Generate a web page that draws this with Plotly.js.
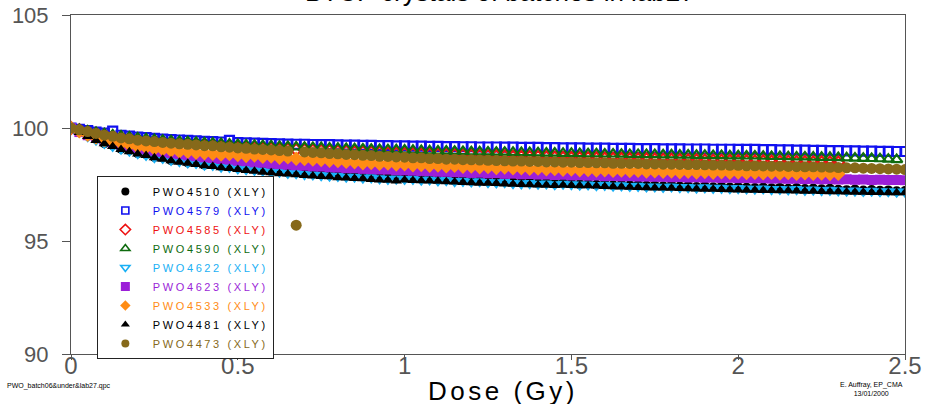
<!DOCTYPE html>
<html>
<head>
<meta charset="utf-8">
<script src="https://cdn.plot.ly/plotly-3.0.1.min.js"></script>
<style>html,body{margin:0;padding:0;background:#fff;}#chart{width:926px;height:404px;}</style>
</head>
<body>
<div id="chart"></div>
<script>
// Dose (Gy) sampling shared by all series
const DOSE = [0,0.025,0.05,0.075,0.1,0.125,0.15,0.175,0.2,0.225,
0.25,0.275,0.3,0.325,0.35,0.375,0.4,0.425,0.45,0.475,
0.5,0.525,0.55,0.575,0.6,0.625,0.65,0.675,0.7,0.725,
0.75,0.775,0.8,0.825,0.85,0.875,0.9,0.925,0.95,0.975,
1.0,1.025,1.05,1.075,1.1,1.125,1.15,1.175,1.2,1.225,
1.25,1.275,1.3,1.325,1.35,1.375,1.4,1.425,1.45,1.475,
1.5,1.525,1.55,1.575,1.6,1.625,1.65,1.675,1.7,1.725,
1.75,1.775,1.8,1.825,1.85,1.875,1.9,1.925,1.95,1.975,
2.0,2.025,2.05,2.075,2.1,2.125,2.15,2.175,2.2,2.225,
2.25,2.275,2.3,2.325,2.35,2.375,2.4,2.425,2.45,2.475,2.5];

const PWO4510 = [100.0,99.85,99.66,99.52,99.33,99.24,99.08,99.02,98.88,98.84,
98.72,98.70,98.58,98.56,98.47,98.50,98.38,98.40,98.31,98.30,
98.24,98.21,98.18,98.15,98.09,98.12,98.03,98.06,97.99,97.98,
97.95,97.92,97.96,97.88,97.90,97.84,97.87,97.82,97.80,97.83,
97.78,97.80,97.74,97.77,97.71,97.73,97.68,97.70,97.66,97.69,
97.64,97.62,97.66,97.60,97.58,97.61,97.56,97.59,97.54,97.57,
97.55,97.51,97.53,97.49,97.52,97.47,97.50,97.46,97.48,97.44,
97.45,97.42,97.46,97.41,97.43,97.39,97.42,97.38,97.40,97.37,
97.39,97.36,97.34,97.37,97.33,97.35,97.31,97.34,97.30,97.32,
97.29,97.31,97.27,97.25,97.28,97.23,97.26,97.22,97.24,97.20,97.21];

const PWO4579 = [100.0,99.94,99.88,99.82,99.77,99.86,99.68,99.64,99.60,99.57,
99.54,99.51,99.49,99.47,99.45,99.43,99.41,99.40,99.38,99.45,
99.35,99.34,99.33,99.32,99.31,99.30,99.29,99.28,99.28,99.27,
99.26,99.26,99.25,99.24,99.24,99.23,99.23,99.22,99.22,99.21,
99.21,99.20,99.20,99.19,99.19,99.18,99.18,99.17,99.17,99.16,
99.16,99.16,99.15,99.15,99.14,99.14,99.14,99.13,99.13,99.12,
99.12,99.12,99.11,99.11,99.11,99.10,99.10,99.10,99.09,99.09,
99.09,99.08,99.08,99.08,99.07,99.07,99.07,99.06,99.06,99.06,
99.05,99.05,99.05,99.04,99.04,99.03,99.03,99.02,99.02,99.01,
99.01,99.00,99.00,98.99,98.99,98.98,98.98,98.97,98.97,98.96,98.96];

const PWO4585 = [100.0,99.90,99.82,99.75,99.68,99.62,99.57,99.52,99.47,99.43,
99.40,99.37,99.34,99.31,99.29,99.27,99.25,99.22,99.21,99.18,
99.16,99.14,99.12,99.11,99.09,99.07,99.06,99.04,99.03,99.01,
99.00,98.98,98.97,98.96,98.94,98.93,98.92,98.91,98.89,98.88,
98.87,98.86,98.85,98.84,98.83,98.82,98.81,98.80,98.79,98.78,
98.77,98.76,98.75,98.74,98.73,98.72,98.72,98.71,98.70,98.69,
98.68,98.67,98.67,98.66,98.65,98.64,98.64,98.63,98.62,98.62,
98.61,98.60,98.60,98.59,98.58,98.58,98.57,98.56,98.56,98.55,
98.54,98.54,98.53,98.53,98.52,98.51,98.51,98.50,98.50,98.49,
98.49,98.48,98.48];

const PWO4590 = [100.0,99.93,99.86,99.80,99.74,99.69,99.64,99.60,99.56,99.52,
99.49,99.46,99.43,99.41,99.39,99.37,99.35,99.33,99.31,99.29,
99.27,99.25,99.24,99.22,99.21,99.19,99.18,99.16,99.15,99.14,
99.13,99.11,99.10,99.09,99.08,99.07,99.06,99.05,99.04,99.03,
99.02,99.01,99.00,98.99,98.98,98.98,98.97,98.96,98.95,98.95,
98.94,98.93,98.93,98.92,98.91,98.91,98.90,98.89,98.89,98.88,
98.88,98.87,98.86,98.86,98.85,98.85,98.84,98.83,98.83,98.82,
98.82,98.81,98.81,98.80,98.80,98.79,98.79,98.78,98.78,98.77,
98.77,98.76,98.76,98.75,98.74,98.74,98.73,98.72,98.72,98.71,
98.70,98.70,98.69,98.68,98.67,98.66,98.65,98.64,98.62,98.60];

const PWO4622 = [100.0,99.83,99.63,99.47,99.33,99.20,99.07,98.98,98.87,98.80,
98.70,98.66,98.57,98.52,98.46,98.44,98.36,98.35,98.28,98.26,
98.20,98.17,98.13,98.10,98.06,98.05,98.00,97.99,97.95,97.93,
97.90,97.88,97.87,97.83,97.83,97.79,97.80,97.76,97.74,97.75,
97.73,97.74,97.70,97.71,97.67,97.68,97.64,97.65,97.62,97.63,
97.59,97.58,97.59,97.55,97.54,97.55,97.52,97.53,97.50,97.52,
97.50,97.48,97.49,97.46,97.47,97.44,97.45,97.42,97.43,97.40,
97.40,97.38,97.40,97.37,97.37,97.35,97.36,97.34,97.34,97.32,
97.33,97.31,97.30,97.31,97.28,97.29,97.27,97.28,97.25,97.26,
97.24,97.25,97.23,97.21,97.22,97.20,97.21,97.19,97.19,97.17,97.17];

const PWO4623 = [100.0,99.82,99.68,99.56,99.45,99.35,99.27,99.18,99.12,99.05,
98.99,98.94,98.88,98.84,98.79,98.75,98.70,98.67,98.63,98.60,
98.55,98.53,98.48,98.46,98.42,98.40,98.37,98.35,98.33,98.30,
98.29,98.26,98.25,98.22,98.22,98.19,98.18,98.16,98.16,98.13,
98.12,98.11,98.09,98.09,98.06,98.06,98.04,98.04,98.01,98.02,
97.99,98.00,97.97,97.98,97.95,97.96,97.94,97.94,97.92,97.93,
97.90,97.91,97.89,97.90,97.87,97.88,97.86,97.87,97.85,97.85,
97.84,97.84,97.82,97.83,97.81,97.82,97.80,97.81,97.79,97.80,
97.78,97.79,97.77,97.78,97.76,97.77,97.75,97.76,97.74,97.75,
97.73,97.74,97.72,97.73,97.71,97.72,97.70,97.71,97.70,97.70,97.69];

const PWO4533 = [100.0,99.85,99.70,99.58,99.47,99.40,99.32,99.25,99.17,99.14,
99.08,99.05,99.00,98.96,98.95,98.90,98.88,98.86,98.82,98.84,
98.80,98.76,98.78,98.72,98.74,98.68,98.70,98.64,98.62,98.60,
98.58,98.55,98.53,98.50,98.48,98.44,98.45,98.41,98.42,98.38,
98.39,98.35,98.36,98.33,98.34,98.30,98.32,98.28,98.29,98.26,
98.27,98.23,98.25,98.21,98.22,98.19,98.20,98.17,98.18,98.15,
98.16,98.13,98.14,98.12,98.13,98.10,98.11,98.09,98.10,98.07,
98.08,98.06,98.07,98.04,98.06,98.03,98.05,98.02,98.04,98.01,
98.03,98.00,98.02,97.99,98.01,97.98,98.00,97.97,97.99,97.97,
97.98,97.96,97.97];

const PWO4481 = [100.0,99.80,99.62,99.45,99.30,99.18,99.05,98.95,98.85,98.78,
98.68,98.62,98.55,98.49,98.44,98.38,98.33,98.30,98.24,98.21,
98.16,98.12,98.09,98.04,98.02,97.98,97.96,97.93,97.90,97.88,
97.85,97.84,97.80,97.79,97.76,97.75,97.72,97.70,97.69,97.66,
97.70,97.68,97.67,97.65,97.64,97.62,97.61,97.59,97.58,97.56,
97.55,97.54,97.52,97.51,97.50,97.49,97.48,97.47,97.46,97.47,
97.46,97.45,97.44,97.43,97.41,97.40,97.39,97.38,97.37,97.36,
97.35,97.34,97.33,97.32,97.31,97.30,97.29,97.29,97.28,97.27,
97.26,97.25,97.25,97.24,97.23,97.22,97.22,97.21,97.20,97.20,
97.19,97.18,97.18,97.17,97.16,97.16,97.15,97.15,97.14,97.14,97.13];

const PWO4473 = [100.0,99.92,99.84,99.76,99.68,99.63,99.56,99.52,99.46,99.43,
99.40,99.36,99.33,99.30,99.28,99.25,99.22,99.21,99.17,99.15,
99.12,99.10,99.07,99.05,99.03,99.00,98.98,95.70,98.94,98.92,
98.90,98.87,98.86,98.83,98.82,98.79,98.78,98.75,98.74,98.72,
98.71,98.68,98.68,98.65,98.65,98.62,98.62,98.60,98.59,98.58,
98.57,98.56,98.55,98.54,98.54,98.52,98.52,98.50,98.50,98.49,
98.49,98.47,98.47,98.46,98.46,98.44,98.44,98.43,98.43,98.41,
98.41,98.40,98.40,98.39,98.38,98.38,98.37,98.36,98.36,98.35,
98.35,98.33,98.33,98.32,98.31,98.31,98.30,98.29,98.28,98.28,
98.27,98.26,98.25,98.24,98.24,98.22,98.21,98.20,98.19,98.18,98.16];

const SERIES_NAMES = ['PWO4510 (XLY)','PWO4579 (XLY)','PWO4585 (XLY)','PWO4590 (XLY)','PWO4622 (XLY)',
                      'PWO4623 (XLY)','PWO4533 (XLY)','PWO4481 (XLY)','PWO4473 (XLY)'];
const SERIES_VALUES = [PWO4510,PWO4579,PWO4585,PWO4590,PWO4622,PWO4623,PWO4533,PWO4481,PWO4473];
const COLORS = ['#000000','#1010f0','#ee1111','#0f6b0f','#19b0f5','#9b1fd8','#ff8c14','#000000','#86691a'];
const SYMBOLS = ['circle','square-open','diamond-open','triangle-up-open','triangle-down-open',
                 'square','diamond','triangle-up','circle'];
const SIZES = [10,9,9,10,9,10,11,10,11];
const LEGEND_SIZES = [8,7,8,8,8,9,8,8,8];

const traces = [];
// data traces (no legend entries)
SERIES_VALUES.forEach((vals, k) => {
  const open = SYMBOLS[k].endsWith('open');
  traces.push({
    type: 'scatter', mode: 'markers',
    x: DOSE.slice(0, vals.length), y: vals,
    name: SERIES_NAMES[k], showlegend: false,
    marker: {symbol: SYMBOLS[k], size: SIZES[k], color: COLORS[k],
             line: {color: COLORS[k], width: open ? 2.2 : 0}},
    hoverinfo: 'x+y+name'
  });
});
// legend entries with smaller symbols
SERIES_NAMES.forEach((nm, k) => {
  const open = SYMBOLS[k].endsWith('open');
  traces.push({
    type: 'scatter', mode: 'markers', x: [null], y: [null],
    name: '<span style="color:' + COLORS[k] + ';letter-spacing:2.6px">' + nm + '</span>',
    showlegend: true, hoverinfo: 'skip',
    marker: {symbol: SYMBOLS[k], size: LEGEND_SIZES[k], color: COLORS[k],
             line: {color: COLORS[k], width: open ? 1.6 : 0}}
  });
});

const FONT = 'Liberation Sans, Arial, sans-serif';

const layout = {
  width: 926, height: 404,
  paper_bgcolor: '#ffffff', plot_bgcolor: '#ffffff',
  margin: {l: 71, r: 21, t: 15, b: 50, pad: 0},
  showlegend: true,
  legend: {
    x: 0.031, y: 0.525, xanchor: 'left', yanchor: 'top',
    bgcolor: '#ffffff', bordercolor: '#222222', borderwidth: 1,
    font: {family: FONT, size: 11, color: '#000'},
    tracegroupgap: 0, itemwidth: 45, itemsizing: 'trace'
  },
  xaxis: {
    range: [0, 2.5], tickvals: [0, 0.5, 1, 1.5, 2, 2.5], ticktext: ['0','0.5','1','1.5','2','2.5'],
    showgrid: false, zeroline: false, showline: true, linecolor: '#555555', linewidth: 1, mirror: true,
    ticks: 'outside', ticklen: 5, tickcolor: '#555555', ticklabelstandoff: -15,
    tickfont: {family: FONT, size: 24, color: '#555555'},
    title: {text: ' ', font: {size: 2}}
  },
  yaxis: {
    range: [90, 105], tickvals: [90, 95, 100, 105],
    showgrid: false, zeroline: false, showline: true, linecolor: '#555555', linewidth: 1, mirror: true,
    ticks: 'outside', ticklen: 8, tickcolor: '#555555', ticklabelstandoff: 9,
    tickfont: {family: FONT, size: 22, color: '#555555'}
  },
  annotations: [
    {text: 'BTCP crystals of batches in lab27', xref: 'paper', yref: 'paper', x: 0.514, y: 1,
     xanchor: 'center', yanchor: 'bottom', yshift: 6, showarrow: false,
     font: {family: FONT, size: 26, color: '#000'}},
    {text: '<span style="letter-spacing:3.5px">Dose (Gy)</span>', xref: 'paper', yref: 'paper', x: 0.518, y: -0.108,
     xanchor: 'center', yanchor: 'middle', showarrow: false,
     font: {family: FONT, size: 26, color: '#000'}},
    {text: 'PWO_batch06&amp;under&amp;lab27.qpc', xref: 'paper', yref: 'paper', x: -0.079, y: -0.094,
     xanchor: 'left', yanchor: 'middle', showarrow: false,
     font: {family: FONT, size: 7, color: '#000'}},
    {text: 'E. Auffray, EP_CMA<br>13/01/2000', xref: 'paper', yref: 'paper', x: 0.96, y: -0.103,
     xanchor: 'center', yanchor: 'middle', align: 'center', showarrow: false,
     font: {family: FONT, size: 7, color: '#000'}}
  ]
};

Plotly.newPlot('chart', traces, layout, {displayModeBar: false, responsive: false});
</script>
</body>
</html>
